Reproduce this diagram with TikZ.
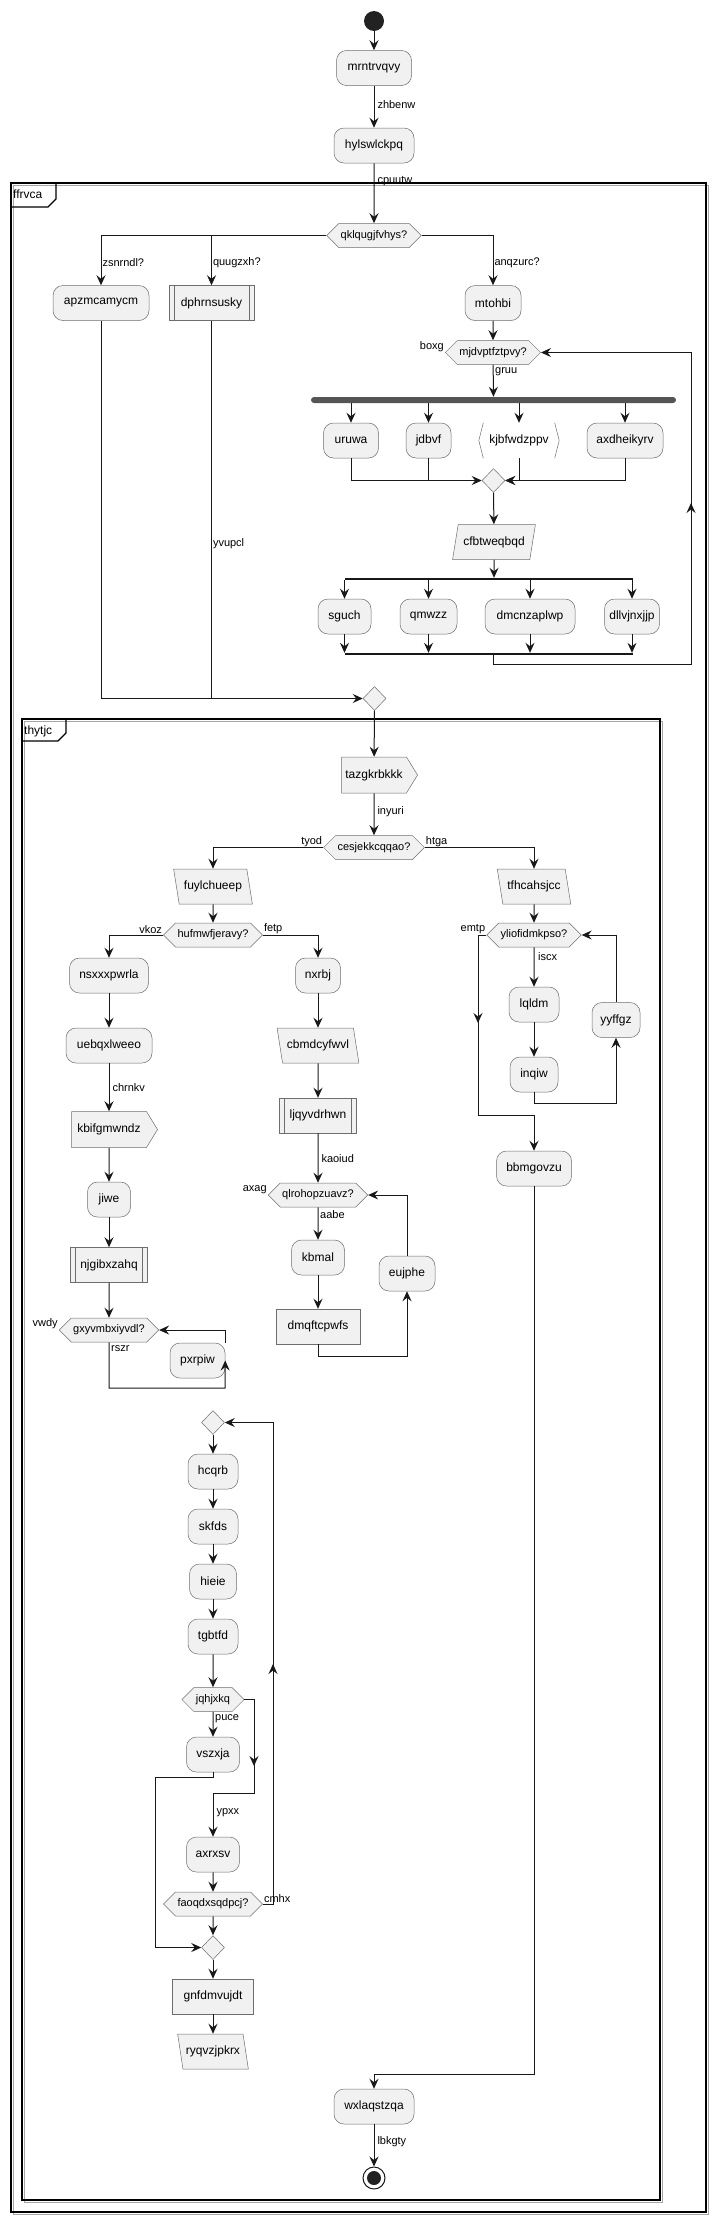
\documentclass[tikz,border=0pt]{standalone}
\usepackage{fontspec}
\setmainfont{Liberation Sans}
\usetikzlibrary{positioning,shapes.geometric,shapes.symbols,arrows.meta}

\definecolor{actfill}{HTML}{F1F1F1}
\definecolor{bordc}{HTML}{181818}
\definecolor{shapec}{HTML}{6E6E6E}
\definecolor{forkc}{HTML}{555555}
\definecolor{dotc}{HTML}{222222}

\tikzset{
	act/.style={rectangle, rounded corners=10pt, draw=shapec, fill=actfill, line width=0.5pt,
		minimum height=35pt, inner xsep=2pt, font=\fontsize{12}{14}\selectfont},
	box/.style={act, rounded corners=0pt},
	subproc/.style={box, path picture={\draw[shapec, line width=0.5pt]
		([xshift=5pt]path picture bounding box.north west) -- ([xshift=5pt]path picture bounding box.south west)
		([xshift=-5pt]path picture bounding box.north east) -- ([xshift=-5pt]path picture bounding box.south east);}},
	iol/.style={trapezium, trapezium left angle=106, trapezium right angle=74, trapezium stretches=true,
		draw=shapec, fill=actfill, line width=0.5pt, minimum height=35pt, inner xsep=2pt,
		font=\fontsize{12}{14}\selectfont},
	ior/.style={iol, trapezium left angle=74, trapezium right angle=106},
	sendsig/.style={signal, signal to=east, signal pointer angle=117, draw=shapec, fill=actfill,
		line width=0.5pt, minimum height=36pt, inner xsep=2pt, font=\fontsize{12}{14}\selectfont},
	brk/.style={rectangle, minimum height=35pt, inner xsep=2pt, font=\fontsize{12}{14}\selectfont},
	brkline/.style={draw=shapec, line width=0.5pt},
	dec/.style={signal, signal to=east and west, signal pointer angle=90, draw=shapec, fill=actfill,
		line width=0.5pt, minimum height=24pt, inner xsep=2pt, font=\fontsize{11}{13}\selectfont},
	merge/.style={diamond, draw=shapec, fill=actfill, line width=0.5pt, minimum width=23pt,
		minimum height=24pt, inner sep=0pt},
	forkbar/.style={rectangle, rounded corners=3pt, fill=forkc, minimum height=6pt, inner sep=0pt},
	splitbar/.style={rectangle, fill=bordc, minimum height=2pt, inner sep=0pt},
	startc/.style={circle, fill=dotc, minimum size=20pt, inner sep=0pt},
	endc/.style={circle, draw=bordc, fill=white, line width=1pt, minimum size=22pt, inner sep=0pt,
		path picture={\fill[dotc] (path picture bounding box.center) circle (7pt);}},
	arr/.style={draw=bordc, line width=1pt, -{Stealth[length=10pt,width=9pt,inset=3.5pt]}},
	ln/.style={draw=bordc, line width=1pt},
	lbl/.style={font=\fontsize{11}{13}\selectfont, inner sep=1pt},
	frame/.style={draw=black, line width=1.2pt},
	shade/.style={draw=black!35, line width=1pt},
	tabl/.style={font=\fontsize{12}{14}\selectfont, inner sep=1pt, anchor=west},
}

\begin{document}
\begin{tikzpicture}[x=1pt, y=-1pt]
	\useasboundingbox (0,0) rectangle (714,2222);

	% groups
	\draw[shade] (13,185) rectangle (708,2214);
	\draw[frame] (11,183) rectangle (706,2212);
	\draw[frame] (11,207) -- (48,207) -- (56,199) -- (56,183);
	\node[tabl] (ffrvca) at (12,194) {ffrvca};
	\draw[shade] (24,721) rectangle (662,2202);
	\draw[frame] (22,719) rectangle (660,2200);
	\draw[frame] (22,741) -- (58,741) -- (66,733) -- (66,719);
	\node[tabl] (thytjc) at (23,731) {thytjc};

	% top
	\node[startc] (start) at (374,21) {};
	\node[act, minimum width=75] (mrn) at (374,68) {mrntrvqvy};
	\node[act, minimum width=80] (hyl) at (374,145.5) {hylswlckpq};
	\draw[arr] (start) -- (mrn);
	\draw[arr] (mrn) -- node[lbl, right, xshift=2pt, pos=.45]{zhbenw} (hyl);

	\node[dec, minimum width=92] (qkl) at (374,235.5) {qklqugjfvhys?};
	\draw[arr] (hyl) -- node[lbl, right, xshift=2pt, pos=.3]{cpuutw} (qkl);

	\node[act, minimum width=96] (apz) at (101,303) {apzmcamycm};
	\node[subproc, minimum width=85] (dph) at (211.5,303) {dphrnsusky};
	\node[act, minimum width=56] (mto) at (493,303) {mtohbi};
	\draw[arr] (qkl.west) -| node[lbl, right, pos=.77]{zsnrndl?} (apz);
	\draw[arr] (qkl.west) -| node[lbl, right, pos=.77]{quugzxh?} (dph);
	\draw[arr] (qkl.east) -| node[lbl, right, pos=.77]{anqzurc?} (mto);

	% while loop
	\node[dec, minimum width=92] (mjd) at (493,352.5) {mjdvptfztpvy?};
	\node[lbl, anchor=south east] (boxg) at (mjd.west) {boxg};
	\draw[arr] (mto) -- (mjd);

	\node[forkbar, minimum width=365] (fork1) at (493.5,400) {};
	\draw[arr] (mjd) -- (fork1);
	\node[lbl, anchor=north west] (gruu) at ([xshift=1pt, yshift=-2pt]mjd.south) {gruu};

	\node[act, minimum width=55] (uru) at (351,440.5) {uruwa};
	\node[act, minimum width=45] (jdb) at (428.5,440.5) {jdbvf};
	\node[brk, minimum width=80] (kjb) at (519,440.5) {kjbfwdzppv};
	\node[act, minimum width=76] (axd) at (625,440.5) {axdheikyrv};
	\draw[brkline] ([xshift=4.5pt]kjb.north west) -- (kjb.west) -- ([xshift=4.5pt]kjb.south west);
	\draw[brkline] ([xshift=-4.5pt]kjb.north east) -- (kjb.east) -- ([xshift=-4.5pt]kjb.south east);
	\foreach \n in {uru,jdb,kjb,axd}
		\draw[arr] (fork1.south -| \n) -- (\n);

	\node[merge] (mg1) at (493.5,480.5) {};
	\draw[arr] (uru) |- (mg1);
	\draw[ln] (jdb) -- (jdb |- mg1);
	\draw[arr] (kjb) |- (mg1);
	\draw[arr] (axd) |- (mg1);

	\node[ior, minimum width=83] (cfb) at (494,542) {cfbtweqbqd};
	\draw[arr] (mg1) -- (cfb);

	\node[splitbar, minimum width=288] (spl1) at (488.5,579) {};
	\node[splitbar, minimum width=288] (spl2) at (488.5,654) {};
	\draw[arr] (cfb) -- (cfb |- spl1.north);
	\node[act, minimum width=53] (sgu) at (344.5,616.5) {sguch};
	\node[act, minimum width=57] (qmw) at (428.5,616.5) {qmwzz};
	\node[act, minimum width=90] (dmc) at (530,616.5) {dmcnzaplwp};
	\node[act, minimum width=55] (dll) at (632,616.5) {dllvjnxjjp};
	\foreach \n in {sgu,qmw,dmc,dll}{
		\draw[arr] (spl1.south -| \n) -- (\n);
		\draw[arr] (\n) -- (\n |- spl2.north);
	}
	\coordinate (lp1) at (691,664);
	\draw[arr] (spl2.south -| mjd) |- (lp1) |- (mjd.east);
	\draw[arr] (691,515) -- (691,503);

	% join
	\node[merge] (mg2) at (374.5,698.5) {};
	\draw[arr] (apz) |- (mg2);
	\draw[ln] (dph) -- node[lbl, right, pos=.59]{yvupcl} (dph |- mg2);

	% inner group
	\node[sendsig, minimum width=76] (taz) at (374,775) {tazgkrbkkk};
	\draw[arr] (mg2) -- (taz);
	\node[dec, minimum width=98] (ces) at (374,847.5) {cesjekkcqqao?};
	\draw[arr] (taz) -- node[lbl, right, xshift=2pt, pos=.44]{inyuri} (ces);
	\node[lbl, anchor=south east] (tyod) at (ces.west) {tyod};
	\node[lbl, anchor=south west] (htga) at (ces.east) {htga};

	\node[iol, minimum width=79] (fuy) at (213,886.5) {fuylchueep};
	\node[iol, minimum width=74] (tfh) at (534,886.5) {tfhcahsjcc};
	\draw[arr] (ces.west) -| (fuy);
	\draw[arr] (ces.east) -| (tfh);

	% left branch
	\node[dec, minimum width=97] (huf) at (213,935) {hufmwfjeravy?};
	\draw[arr] (fuy) -- (huf);
	\node[lbl, anchor=south east] (vkoz) at (huf.west) {vkoz};
	\node[lbl, anchor=south west] (fetp) at (huf.east) {fetp};
	\node[act, minimum width=79] (nsx) at (109,975.5) {nsxxxpwrla};
	\node[act, minimum width=45] (nxr) at (318,975.5) {nxrbj};
	\draw[arr] (huf.west) -| (nsx);
	\draw[arr] (huf.east) -| (nxr);

	\node[act, minimum width=86] (ueb) at (109,1045.5) {uebqxlweeo};
	\node[sendsig, minimum width=86] (kbi) at (109,1129.5) {kbifgmwndz};
	\node[act, minimum width=43] (jiw) at (109,1199.5) {jiwe};
	\node[subproc, minimum width=77] (njg) at (109,1265) {njgibxzahq};
	\node[dec, minimum width=96] (gxy) at (109,1330) {gxyvmbxiyvdl?};
	\node[lbl, anchor=south east] (vwdy) at (gxy.west) {vwdy};
	\node[act, minimum width=55] (pxr) at (197.5,1360.5) {pxrpiw};
	\draw[arr] (nsx) -- (ueb);
	\draw[arr] (ueb) -- node[lbl, right, xshift=2pt, pos=.5]{chrnkv} (kbi);
	\draw[arr] (kbi) -- (jiw);
	\draw[arr] (jiw) -- (njg);
	\draw[arr] (njg) -- (gxy);
	\node[lbl, anchor=north west] (rszr) at ([xshift=1pt, yshift=-2pt]gxy.south) {rszr};
	\coordinate (gl1) at (225,1388);
	\draw[arr] (gxy) |- (gl1) -- (pxr.east);
	\draw[arr] (pxr.north east) |- (gxy.east);

	% middle branch
	\node[iol, minimum width=82] (cbm) at (318,1045.5) {cbmdcyfwvl};
	\node[subproc, minimum width=77] (ljq) at (318,1115.5) {ljqyvdrhwn};
	\node[dec, minimum width=96] (qlr) at (318,1195) {qlrohopzuavz?};
	\node[lbl, anchor=south east] (axag) at (qlr.west) {axag};
	\node[act, minimum width=53] (kbm) at (318,1257.5) {kbmal};
	\node[box, minimum width=84] (dmq) at (318,1326.5) {dmqftcpwfs};
	\node[act, minimum width=56] (euj) at (407,1273.5) {eujphe};
	\draw[arr] (nxr) -- (cbm);
	\draw[arr] (cbm) -- (ljq);
	\draw[arr] (ljq) -- node[lbl, right, xshift=2pt, pos=.52]{kaoiud} (qlr);
	\draw[arr] (qlr) -- (kbm);
	\node[lbl, anchor=north west] (aabe) at ([xshift=1pt, yshift=-2pt]qlr.south) {aabe};
	\draw[arr] (kbm) -- (dmq);
	\coordinate (ql1) at (407,1356);
	\draw[arr] (dmq) |- (ql1) -- (euj);
	\draw[arr] (euj) |- (qlr.east);

	% right branch
	\node[dec, minimum width=88] (yli) at (534,935) {yliofidmkpso?};
	\node[lbl, anchor=south east] (emtp) at (yli.west) {emtp};
	\node[act, minimum width=50] (lql) at (534,1004.5) {lqldm};
	\node[act, minimum width=48] (inq) at (534,1074.5) {inqiw};
	\node[act, minimum width=48] (yyf) at (616,1020) {yyffgz};
	\node[act, minimum width=75] (bbm) at (534,1168.5) {bbmgovzu};
	\draw[arr] (tfh) -- (yli);
	\draw[arr] (yli) -- (lql);
	\node[lbl, anchor=north west] (iscx) at ([xshift=3pt, yshift=-4pt]yli.south) {iscx};
	\draw[arr] (lql) -- (inq);
	\coordinate (yl1) at (616,1103);
	\draw[arr] (inq) |- (yl1) -- (yyf);
	\draw[arr] (yyf) |- (yli.east);
	\coordinate (yl2) at (478,935);
	\coordinate (yl3) at (478,1115);
	\draw[arr] (yli.west) -- (yl2) -- (yl3) -| (bbm);
	\draw[arr] (478,1011) -- (478,1023);

	% repeat loop
	\node[merge] (mg3) at (213,1422.5) {};
	\node[act, minimum width=50] (hcq) at (213,1471.5) {hcqrb};
	\node[act, minimum width=50] (skf) at (213,1526.5) {skfds};
	\node[act, minimum width=47] (hie) at (213,1581.5) {hieie};
	\node[act, minimum width=50] (tgb) at (213,1636.5) {tgbtfd};
	\node[dec, minimum width=57] (jqh) at (213,1699.5) {jqhjxkq};
	\node[act, minimum width=53] (vsz) at (213,1754.5) {vszxja};
	\node[act, minimum width=53] (axr) at (213,1854.5) {axrxsv};
	\node[dec, minimum width=96] (fao) at (213,1904) {faoqdxsqdpcj?};
	\node[merge] (mg4) at (213,1947.5) {};
	\node[box, minimum width=81] (gnf) at (213,1996.5) {gnfdmvujdt};
	\node[iol, minimum width=71] (ryq) at (213,2051.5) {ryqvzjpkrx};
	\draw[arr] (mg3) -- (hcq);
	\draw[arr] (hcq) -- (skf);
	\draw[arr] (skf) -- (hie);
	\draw[arr] (hie) -- (tgb);
	\draw[arr] (tgb) -- (jqh);
	\draw[arr] (jqh) -- (vsz);
	\node[lbl, anchor=north west] (puce) at ([xshift=1pt, yshift=-2pt]jqh.south) {puce};
	\coordinate (jq1) at (254,1699.5);
	\coordinate (jq2) at (254,1793);
	\draw[arr] (jqh.east) -- (jq1) -- (jq2) -| node[lbl, right, xshift=2pt, pos=.72]{ypxx} (axr);
	\draw[arr] (254,1754) -- (254,1766);
	\coordinate (vs1) at (155,1777);
	\draw[arr] (vsz) |- (vs1) |- (mg4);
	\draw[arr] (axr) -- (fao);
	\coordinate (fa1) at (273,1904);
	\draw[arr] (fao.east) -- (fa1) |- (mg3);
	\draw[arr] (273,1676) -- (273,1664);
	\node[lbl, anchor=south west] (cmhx) at (fao.east) {cmhx};
	\draw[arr] (fao) -- (mg4);
	\draw[arr] (mg4) -- (gnf);
	\draw[arr] (gnf) -- (ryq);

	% end
	\node[act, minimum width=80] (wxl) at (374,2106.5) {wxlaqstzqa};
	\node[endc] (end) at (374,2178) {};
	\coordinate (bl1) at (534,2074);
	\draw[arr] (bbm) -- (bl1) -| (wxl);
	\draw[arr] (wxl) -- node[lbl, right, xshift=2pt, pos=.42]{lbkgty} (end);
\end{tikzpicture}
\end{document}
